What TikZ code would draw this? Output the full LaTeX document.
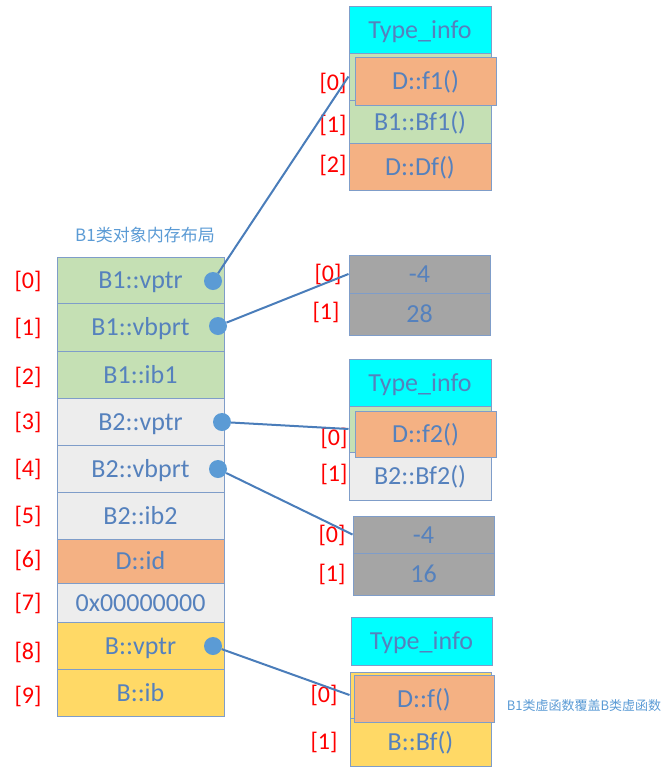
\documentclass[tikz,border=0pt]{standalone}
\usepackage{fontspec}
\setmainfont{Carlito}
\newfontfamily\cjk{Noto Sans CJK SC}
\usetikzlibrary{positioning}
\definecolor{txtblue}{HTML}{5581BD}
\definecolor{dotblue}{HTML}{5B9BD5}
\definecolor{linkblue}{HTML}{4A7DBA}
\definecolor{cellline}{HTML}{7F9DC9}
\definecolor{grn}{HTML}{C5E0B4}
\definecolor{gry}{HTML}{EDEDED}
\definecolor{org}{HTML}{F4B183}
\definecolor{ylw}{HTML}{FFD966}
\definecolor{cyn}{HTML}{00FFFF}
\definecolor{dgry}{HTML}{A5A5A5}

\begin{document}
\begin{tikzpicture}[x=1pt, y=-1pt,
    cell/.style={rectangle, draw=cellline, line width=1pt, minimum width=167pt, inner sep=0pt, text height=17pt, text depth=0pt, font=\fontsize{26}{26}\selectfont, text=txtblue},
    slot/.style={rectangle, draw=cellline, line width=1pt, minimum width=142pt, inner sep=0pt, text height=17pt, text depth=0pt, font=\fontsize{26}{26}\selectfont, text=txtblue},
    idx/.style={inner sep=0pt, text=red, font=\fontsize{24}{24}\selectfont},
    dot/.style={circle, fill=dotblue, minimum size=18pt, inner sep=0pt},
    link/.style={draw=linkblue, line width=2pt},
    note/.style={inner sep=0pt, text=dotblue}
]
\useasboundingbox (0,0) rectangle (663,769);

% B1 object layout
\node[note, font=\cjk\fontsize{17}{17}\selectfont] (title) at (145,235) {B1类对象内存布局};
\node[cell, fill=grn, minimum height=46pt] (b0) at (140.5,280) {B1::vptr};
\node[cell, fill=grn, minimum height=48pt] (b1) at (140.5,327) {B1::vbprt};
\node[cell, fill=grn, minimum height=47pt] (b2) at (140.5,374.5) {B1::ib1};
\node[cell, fill=gry, minimum height=47pt] (b3) at (140.5,421.5) {B2::vptr};
\node[cell, fill=gry, minimum height=47pt] (b4) at (140.5,468.5) {B2::vbprt};
\node[cell, fill=gry, minimum height=47pt] (b5) at (140.5,515.5) {B2::ib2};
\node[cell, fill=org, minimum height=44pt] (b6) at (140.5,561) {D::id};
\node[cell, fill=gry, minimum height=39pt] (b7) at (140.5,602.5) {0x00000000};
\node[cell, fill=ylw, minimum height=47pt] (b8) at (140.5,645.5) {B::vptr};
\node[cell, fill=ylw, minimum height=47pt] (b9) at (140.5,692.5) {B::ib};
\foreach \i/\y in {0/281,1/328,2/377,3/422,4/469,5/516,6/560,7/603,8/652,9/696}
  \node[idx] (l\i) at (28,\y) {[\i]};

% vtable of B1
\node[slot, fill=cyn, minimum height=47pt] (t1h) at (420,29.5) {Type\_info};
\node[slot, fill=grn, minimum height=47pt] (t1r0) at (420,76.5) {};
\node[slot, fill=grn, minimum height=43pt] (t1r1) at (420,121.5) {B1::Bf1()};
\node[slot, fill=org, minimum height=47pt] (t1r2) at (420,166.5) {D::Df()};
\node[slot, fill=org, minimum height=48pt, minimum width=141pt] (t1f) at (425.5,81) {D::f1()};
\node[idx] (t1l0) at (333,83) {[0]};
\node[idx] (t1l1) at (333,125) {[1]};
\node[idx] (t1l2) at (333,165) {[2]};

% vbtable of B1
\node[slot, fill=dgry, minimum height=38pt, minimum width=141pt] (v1r0) at (419.5,274) {-4};
\node[slot, fill=dgry, minimum height=42pt, minimum width=141pt] (v1r1) at (419.5,314) {28};
\node[idx] (v1l0) at (328,274) {[0]};
\node[idx] (v1l1) at (326,312) {[1]};

% vtable of B2
\node[slot, fill=cyn, minimum height=47pt] (t2h) at (420,382.5) {Type\_info};
\node[slot, fill=grn, minimum height=46pt] (t2r0) at (420,429) {};
\node[slot, fill=gry, minimum height=48pt] (t2r1) at (420,476) {B2::Bf2()};
\node[slot, fill=org, minimum height=46pt, minimum width=141pt] (t2f) at (425.5,434) {D::f2()};
\node[idx] (t2l0) at (334,438) {[0]};
\node[idx] (t2l1) at (334,474) {[1]};

% vbtable of B2
\node[slot, fill=dgry, minimum height=37pt, minimum width=141pt] (v2r0) at (423.5,534.5) {-4};
\node[slot, fill=dgry, minimum height=42pt, minimum width=141pt] (v2r1) at (423.5,574) {16};
\node[idx] (v2l0) at (332,535) {[0]};
\node[idx] (v2l1) at (332,574) {[1]};

% vtable of B
\node[slot, fill=cyn, minimum height=48pt, minimum width=141pt] (t3h) at (421.5,641) {Type\_info};
\node[slot, fill=ylw, minimum height=46pt, minimum width=141pt] (t3r0) at (420.5,695) {};
\node[slot, fill=ylw, minimum height=48pt, minimum width=141pt] (t3r1) at (420.5,742) {B::Bf()};
\node[slot, fill=org, minimum height=47pt, minimum width=140pt] (t3f) at (424,698.5) {D::f()};
\node[idx] (t3l0) at (324,695) {[0]};
\node[idx] (t3l1) at (324,742) {[1]};
\node[note, font=\cjk\fontsize{13}{13}\selectfont] (remark) at (584,706) {B1类虚函数覆盖B类虚函数};

% pointers
\node[dot] (d0) at (213,281) {};
\node[dot] (d1) at (218,326) {};
\node[dot] (d3) at (222,422) {};
\node[dot] (d4) at (218,469) {};
\node[dot] (d8) at (213,646) {};
\draw[link] (d0) -- (t1r0.west);
\draw[link] (d1) -- (v1r0.west);
\draw[link] (d3) -- (t2r0.west);
\draw[link] (d4) -- (v2r0.west);
\draw[link] (d8) -- (t3r0.west);
\end{tikzpicture}
\end{document}
